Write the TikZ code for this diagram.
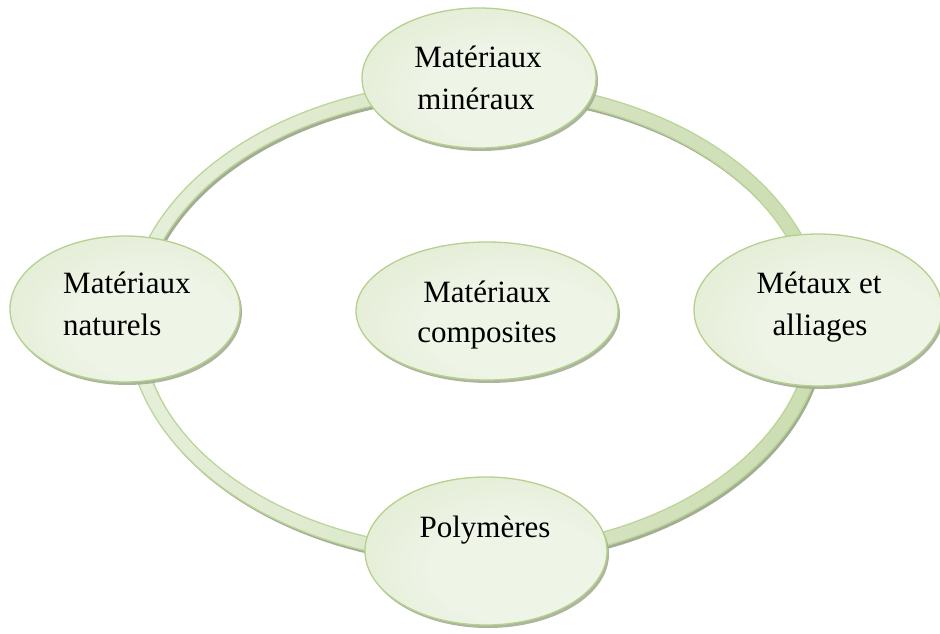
\documentclass[tikz,border=0pt]{standalone}
\usepackage{fontspec}
\setmainfont{Liberation Serif}
\usetikzlibrary{shapes.geometric,shadows}
\definecolor{nodeedge}{HTML}{B6D08E}
\definecolor{ncenter}{HTML}{EEF4E6}
\definecolor{nmid}{HTML}{E2ECD3}
\definecolor{nouter}{HTML}{C6DAA4}
\definecolor{shadowcol}{HTML}{A3AD93}
\definecolor{ringedge}{HTML}{BCD59A}
\definecolor{ringlight}{HTML}{E6EFDA}
\definecolor{ringdark}{HTML}{CCDDB1}
\pgfdeclareradialshading{nodeshade}{\pgfpoint{8bp}{-8bp}}{color(0bp)=(ncenter); color(18bp)=(ncenter); color(36bp)=(nmid); color(58bp)=(nouter); color(80bp)=(nouter)}
\tikzset{
  bubble/.style={ellipse, draw=nodeedge, line width=1.3pt, shading=nodeshade,
    inner sep=0pt, drop shadow={shadow xshift=2pt, shadow yshift=-3pt, fill=shadowcol, opacity=0.9}},
  txt/.style={anchor=base, inner sep=0pt, font=\fontsize{31}{42}\selectfont, text=black},
}
\begin{document}
\begin{tikzpicture}[x=1pt,y=-1pt]
\useasboundingbox (0,0) rectangle (940,634);
% ring
\coordinate (rc) at (476,322);
\coordinate (rcs) at (478,325);
\fill[shadowcol, even odd rule] (rcs) ellipse [x radius=349, y radius=241] (rcs) ellipse [x radius=335, y radius=227];
\path[even odd rule, draw=ringedge, line width=1.3pt, left color=ringlight, right color=ringdark]
  (rc) ellipse [x radius=349, y radius=241] (rc) ellipse [x radius=335, y radius=227];
% bubbles
\node[bubble, minimum width=234, minimum height=140] (top) at (479,78) {};
\node[bubble, minimum width=230, minimum height=146] (left) at (125,309) {};
\node[bubble, minimum width=248, minimum height=152] (right) at (818,310) {};
\node[bubble, minimum width=262, minimum height=138] (mid) at (487,311) {};
\node[bubble, minimum width=242, minimum height=148] (bottom) at (486,551) {};
% texts
\node[txt] (top1) at (478,67) {Matériaux};
\node[txt] (top2) at (476,109) {minéraux};
\node[txt, anchor=base west] (left1) at (63,293) {Matériaux};
\node[txt, anchor=base west] (left2) at (63,335) {naturels};
\node[txt] (right1) at (819,293) {Métaux et};
\node[txt] (right2) at (820,335) {alliages};
\node[txt] (mid1) at (487,302) {Matériaux};
\node[txt] (mid2) at (487,342) {composites};
\node[txt] (bot1) at (485,537) {Polymères};
\end{tikzpicture}
\end{document}
